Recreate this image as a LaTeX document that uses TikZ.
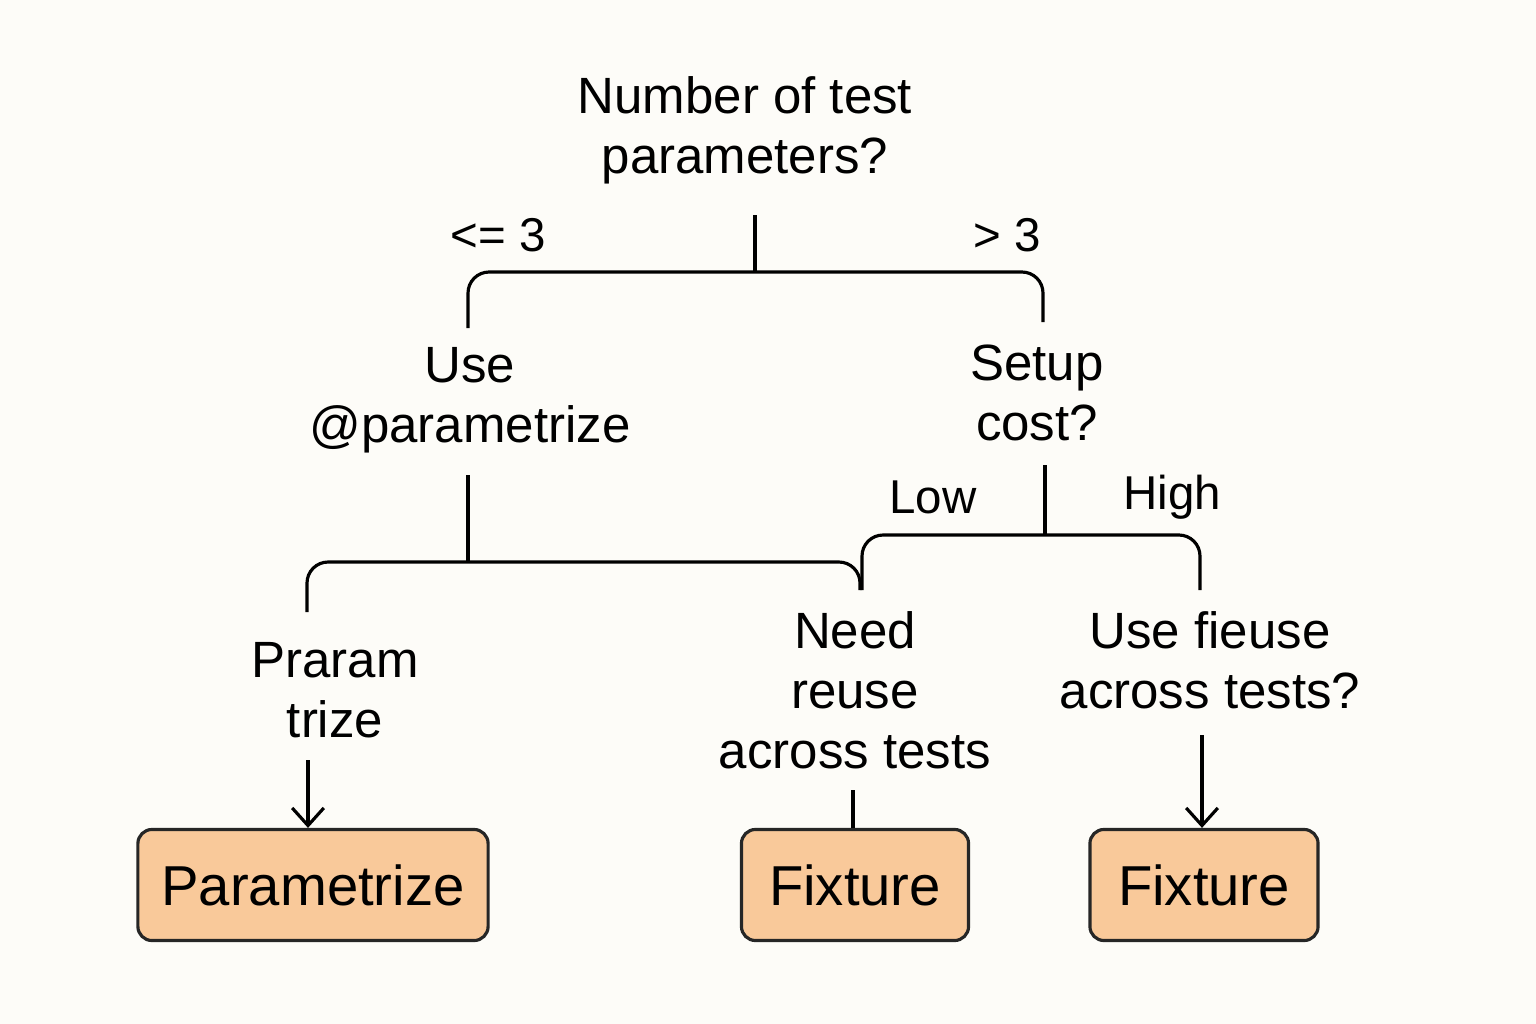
\documentclass[tikz,border=0pt]{standalone}
\usepackage{fontspec}
\setmainfont{Liberation Sans}
\usetikzlibrary{positioning,calc,arrows.meta}

\begin{document}
\begin{tikzpicture}[
    x=0.01cm, y=-0.01cm,
    label/.style={align=center, font=\fontsize{14.5}{17}\selectfont},
    edge/.style={font=\fontsize{13.5}{16}\selectfont},
    result/.style={rectangle, draw=black!85, fill={rgb,255:red,249;green,201;blue,154}, rounded corners=4pt, line width=0.9pt, font=\fontsize{16}{18}\selectfont},
    line/.style={line width=0.9pt, rounded corners=6pt},
    arrow/.style={line width=0.9pt, -{Straight Barb[length=5pt,width=9pt]}}
]
    \fill[fill={rgb,255:red,253;green,252;blue,248}] (0,0) rectangle (1536,1024);
    \useasboundingbox (0,0) rectangle (1536,1024);

    % Questions
    \node[label] (count) at (745,130) {Number of test\\parameters?};
    \node[label] (use) at (470,400) {Use\\@parametrize};
    \node[label] (setup) at (1037,393) {Setup\\cost?};
    \node[label] (praram) at (335,690) {Praram\\trize};
    \node[label] (need) at (855,690) {Need\\reuse\\across tests};
    \node[label] (fieuse) at (1210,660) {Use fieuse\\across tests?};

    % Edge labels
    \node[edge] (le) at (498,235) {<= 3};
    \node[edge] (gt) at (1007,235) {> 3};
    \node[edge] (low) at (933,497) {Low};
    \node[edge] (high) at (1172,497) {High};

    % Results
    \node[result, minimum width=3.5cm, minimum height=1.11cm] (param) at (313,885) {Parametrize};
    \node[result, minimum width=2.27cm, minimum height=1.11cm] (fixa) at (855,885) {Fixture};
    \node[result, minimum width=2.28cm, minimum height=1.11cm] (fixb) at (1204,885) {Fixture};

    % Connectors
    \coordinate (j1) at (755,272);
    \coordinate (j2) at (468,562);
    \coordinate (j3) at (1045,535);
    \draw[line] (755,215) -- (j1);
    \draw[line] (468,328) -- (468,272) -- (1043,272) -- (1043,322);
    \draw[line] (468,475) -- (j2);
    \draw[line] (307,612) -- (307,562) -- (860,562) -- (860,590);
    \draw[line] (1045,465) -- (j3);
    \draw[line] (862,590) -- (862,535) -- (1200,535) -- (1200,590);
    \draw[arrow] (308,760) -- (param.north -| 308,0);
    \draw[line] (853,790) -- (fixa.north -| 853,0);
    \draw[arrow] (1202,735) -- (fixb.north -| 1202,0);
\end{tikzpicture}
\end{document}
